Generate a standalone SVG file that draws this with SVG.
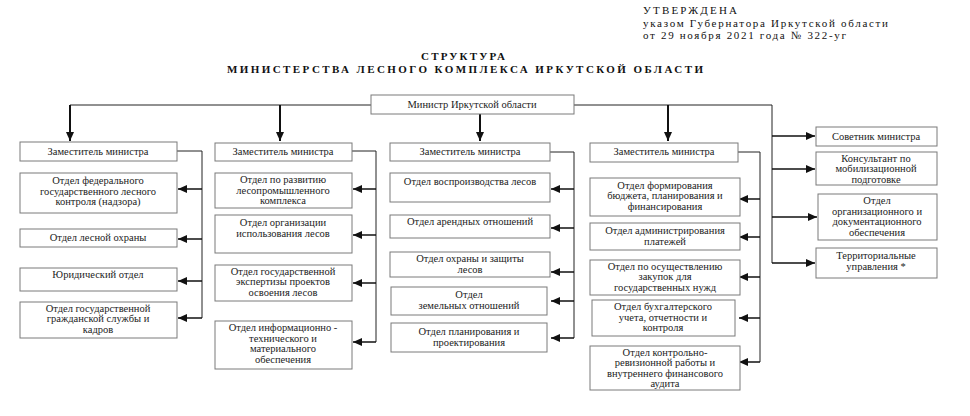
<svg xmlns="http://www.w3.org/2000/svg" width="970" height="416" viewBox="0 0 970 416">
<defs>
<marker id="ah" markerUnits="userSpaceOnUse" markerWidth="9" markerHeight="8" refX="9" refY="4" orient="auto">
<path d="M0,0 L9,4 L0,8 Z" fill="#111"/>
</marker>
<style>
text{font-family:'Liberation Serif','DejaVu Serif','Times New Roman',serif}
.box{fill:#fff;stroke:#7a7a7a;stroke-width:1}
.t{font-size:10.5px;fill:#222;text-anchor:middle}
.hd{font-size:11px;fill:#111}
.ti{font-size:11px;font-weight:bold;fill:#111;text-anchor:middle}
.ln{fill:none;stroke:#222;stroke-width:1}
.ar{fill:none;stroke:#111;stroke-width:2;marker-end:url(#ah)}
.ah{fill:none;stroke:#111;stroke-width:1.5;marker-end:url(#ah)}
</style>
</defs>
<rect width="970" height="416" fill="#fff"/>
<g id="header">
<text class="hd" x="643" y="14" textLength="94" lengthAdjust="spacing">УТВЕРЖДЕНА</text>
<text class="hd" x="643" y="27" textLength="245" lengthAdjust="spacing">указом Губернатора Иркутской области</text>
<text class="hd" x="643" y="39" textLength="203" lengthAdjust="spacing">от 29 ноября 2021 года № 322-уг</text>
</g>
<g id="title">
<text class="ti" x="463" y="60" textLength="84" lengthAdjust="spacing">СТРУКТУРА</text>
<text class="ti" x="465" y="73" textLength="476" lengthAdjust="spacing">МИНИСТЕРСТВА ЛЕСНОГО КОМПЛЕКСА ИРКУТСКОЙ ОБЛАСТИ</text>
</g>
<g id="connectors">
<path class="ln" d="M371,105 H70"/>
<path class="ln" d="M574,105 H772 V263"/>
<path class="ar" d="M70,105 V141"/>
<path class="ar" d="M280,105 V141"/>
<path class="ar" d="M480,114 V141"/>
<path class="ar" d="M668,105 V141"/>
<path class="ln" d="M177,151 H202 V318"/>
<path class="ah" d="M202,189 H178"/>
<path class="ah" d="M202,239 H178"/>
<path class="ah" d="M202,281 H178"/>
<path class="ah" d="M202,318 H178"/>
<path class="ln" d="M352,151 H376 V342"/>
<path class="ah" d="M376,189 H353"/>
<path class="ah" d="M376,235 H353"/>
<path class="ah" d="M376,283 H353"/>
<path class="ah" d="M376,342 H353"/>
<path class="ln" d="M550,152 H574 V338"/>
<path class="ah" d="M574,189 H551"/>
<path class="ah" d="M574,228 H551"/>
<path class="ah" d="M574,272 H551"/>
<path class="ah" d="M574,301 H551"/>
<path class="ah" d="M574,338 H551"/>
<path class="ln" d="M738,152 H760 V362"/>
<path class="ah" d="M760,199 H739"/>
<path class="ah" d="M760,237 H739"/>
<path class="ah" d="M760,277 H739"/>
<path class="ah" d="M760,318 H739"/>
<path class="ah" d="M760,362 H739"/>
<path class="ah" d="M772,136 H815"/>
<path class="ah" d="M772,169 H815"/>
<path class="ah" d="M772,217 H817"/>
<path class="ah" d="M772,263 H815"/>
</g>
<g id="minister"><rect class="box" x="371" y="95" width="203" height="19"/><text class="t" x="472" y="108">Министр Иркутской области</text></g>

<g id="dep1"><rect class="box" x="20" y="142" width="157" height="19"/><text class="t" x="98" y="155">Заместитель министра</text></g>
<g id="c1n1"><rect class="box" x="20" y="173" width="157" height="40"/><text class="t" x="98" y="184">Отдел федерального<tspan x="98" dy="10.5">государственного лесного</tspan><tspan x="98" dy="10.5">контроля (надзора)</tspan></text></g>
<g id="c1n2"><rect class="box" x="20" y="229" width="157" height="18"/><text class="t" x="98" y="241">Отдел лесной охраны</text></g>
<g id="c1n3"><rect class="box" x="20" y="268" width="157" height="23"/><text class="t" x="98" y="278">Юридический отдел</text></g>
<g id="c1n4"><rect class="box" x="20" y="302" width="157" height="36"/><text class="t" x="98" y="311.5">Отдел государственной<tspan x="98" dy="10.5">гражданской службы и</tspan><tspan x="98" dy="10.5">кадров</tspan></text></g>

<g id="dep2"><rect class="box" x="215" y="143" width="137" height="18"/><text class="t" x="283" y="155">Заместитель министра</text></g>
<g id="c2n1"><rect class="box" x="215" y="173" width="137" height="35"/><text class="t" x="283" y="183">Отдел по развитию<tspan x="283" dy="10.5">лесопромышленного</tspan><tspan x="283" dy="10.5">комплекса</tspan></text></g>
<g id="c2n2"><rect class="box" x="215" y="215" width="137" height="38"/><text class="t" x="283" y="226">Отдел организации<tspan x="283" dy="10.5">использования лесов</tspan></text></g>
<g id="c2n3"><rect class="box" x="215" y="265" width="137" height="36"/><text class="t" x="283" y="274.5">Отдел государственной<tspan x="283" dy="10.5">экспертизы проектов</tspan><tspan x="283" dy="10.5">освоения лесов</tspan></text></g>
<g id="c2n4"><rect class="box" x="215" y="321" width="137" height="48"/><text class="t" x="283" y="331">Отдел информационно -<tspan x="283" dy="10.5">технического и</tspan><tspan x="283" dy="10.5">материального</tspan><tspan x="283" dy="10.5">обеспечения</tspan></text></g>

<g id="dep3"><rect class="box" x="390" y="143" width="160" height="18"/><text class="t" x="470" y="155">Заместитель министра</text></g>
<g id="c3n1"><rect class="box" x="390" y="173" width="160" height="29"/><text class="t" x="470" y="185">Отдел воспроизводства лесов</text></g>
<g id="c3n2"><rect class="box" x="390" y="215" width="160" height="23"/><text class="t" x="470" y="225">Отдел арендных отношений</text></g>
<g id="c3n3"><rect class="box" x="390" y="252" width="160" height="25"/><text class="t" x="470" y="262">Отдел охраны и защиты<tspan x="470" dy="10.5">лесов</tspan></text></g>
<g id="c3n4"><rect class="box" x="391" y="287" width="156" height="28"/><text class="t" x="469" y="298">Отдел<tspan x="469" dy="10.5">земельных отношений</tspan></text></g>
<g id="c3n5"><rect class="box" x="391" y="323" width="156" height="29"/><text class="t" x="469" y="335">Отдел планирования и<tspan x="469" dy="10.5">проектирования</tspan></text></g>

<g id="dep4"><rect class="box" x="590" y="143" width="148" height="19"/><text class="t" x="664" y="155">Заместитель министра</text></g>
<g id="c4n1"><rect class="box" x="590" y="178" width="150" height="38"/><text class="t" x="665" y="188.5">Отдел формирования<tspan x="665" dy="10.5">бюджета, планирования и</tspan><tspan x="665" dy="10.5">финансирования</tspan></text></g>
<g id="c4n2"><rect class="box" x="590" y="223" width="150" height="27"/><text class="t" x="665" y="234">Отдел администрирования<tspan x="665" dy="10.5">платежей</tspan></text></g>
<g id="c4n3"><rect class="box" x="590" y="260" width="150" height="35"/><text class="t" x="665" y="269.5">Отдел по осуществлению<tspan x="665" dy="10.5">закупок для</tspan><tspan x="665" dy="10.5">государственных нужд</tspan></text></g>
<g id="c4n4"><rect class="box" x="592" y="300" width="143" height="36"/><text class="t" x="663" y="310">Отдел бухгалтерского<tspan x="663" dy="10.5">учета, отчетности и</tspan><tspan x="663" dy="10.5">контроля</tspan></text></g>
<g id="c4n5"><rect class="box" x="590" y="346" width="150" height="44"/><text class="t" x="665" y="355.5">Отдел контрольно-<tspan x="665" dy="10.5">ревизионной работы и</tspan><tspan x="665" dy="10.5">внутреннего финансового</tspan><tspan x="665" dy="10.5">аудита</tspan></text></g>

<g id="adv1"><rect class="box" x="816" y="127" width="121" height="19"/><text class="t" x="876" y="140">Советник министра</text></g>
<g id="adv2"><rect class="box" x="816" y="152" width="121" height="33"/><text class="t" x="876" y="161.5">Консультант по<tspan x="876" dy="10.5">мобилизационной</tspan><tspan x="876" dy="10.5">подготовке</tspan></text></g>
<g id="adv3"><rect class="box" x="818" y="194" width="119" height="46"/><text class="t" x="877" y="204">Отдел<tspan x="877" dy="10.5">организационного и</tspan><tspan x="877" dy="10.5">документационного</tspan><tspan x="877" dy="10.5">обеспечения</tspan></text></g>
<g id="adv4"><rect class="box" x="816" y="248" width="121" height="30"/><text class="t" x="876" y="259">Территориальные<tspan x="876" dy="10.5">управления *</tspan></text></g>
</svg>
